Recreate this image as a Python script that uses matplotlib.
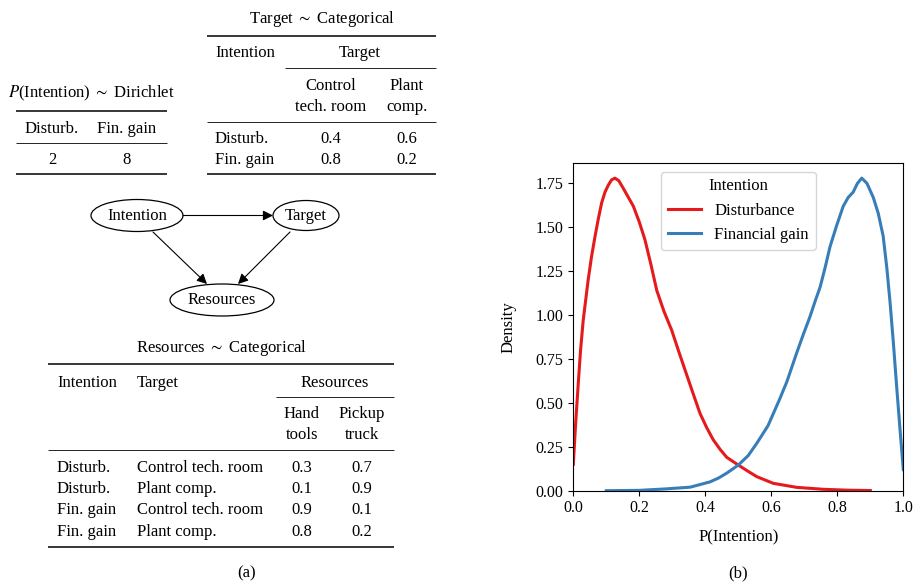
import matplotlib
matplotlib.use('Agg')
import matplotlib.pyplot as plt
from matplotlib.patches import Ellipse

plt.rcParams['font.family'] = ['Liberation Serif', 'DejaVu Serif']
plt.rcParams['mathtext.fontset'] = 'stix'
plt.rcParams['font.size'] = 12

# ---- data ----
# (a) Dirichlet prior on Intention
prior_labels = ['Disturb.', 'Fin. gain']
prior_alpha = ['2', '8']

# Target | Intention
target_rows = ['Disturb.', 'Fin. gain']
target_cols = ['Control\ntech. room', 'Plant\ncomp.']
target_probs = [['0.4', '0.6'], ['0.8', '0.2']]

# Resources | Intention, Target
res_intention = ['Disturb.', 'Disturb.', 'Fin. gain', 'Fin. gain']
res_target = ['Control tech. room', 'Plant comp.', 'Control tech. room', 'Plant comp.']
res_cols = ['Hand\ntools', 'Pickup\ntruck']
res_probs = [['0.3', '0.7'], ['0.1', '0.9'], ['0.9', '0.1'], ['0.8', '0.2']]

# DAG
nodes = ['Intention', 'Target', 'Resources']
edges = [('Intention', 'Target'), ('Intention', 'Resources'), ('Target', 'Resources')]

# (b) density of P(Intention)
dist_x = [0.0, 0.007, 0.015, 0.022, 0.03, 0.045, 0.055, 0.066, 0.076, 0.086, 0.096,
          0.106, 0.116, 0.126, 0.138, 0.152, 0.167, 0.182, 0.2, 0.217, 0.235,
          0.253, 0.275, 0.298, 0.32, 0.34, 0.36, 0.384, 0.404, 0.424, 0.445,
          0.465, 0.5, 0.53, 0.556, 0.606, 0.677, 0.758, 0.83, 0.9]
dist_y = [0.15, 0.38, 0.61, 0.80, 0.97, 1.20, 1.33, 1.45, 1.55, 1.64, 1.70,
          1.74, 1.77, 1.78, 1.765, 1.72, 1.67, 1.62, 1.53, 1.43, 1.29,
          1.14, 1.02, 0.915, 0.79, 0.68, 0.57, 0.44, 0.36, 0.29, 0.235,
          0.19, 0.146, 0.11, 0.08, 0.042, 0.019, 0.008, 0.003, 0.001]
fin_x = [0.1, 0.2, 0.278, 0.354, 0.414, 0.44, 0.465, 0.5, 0.53, 0.556, 0.59,
         0.625, 0.647, 0.677, 0.697, 0.717, 0.733, 0.748, 0.763, 0.778, 0.798,
         0.818, 0.833, 0.848, 0.861, 0.874, 0.89, 0.909, 0.924, 0.939, 0.95,
         0.96, 0.97, 0.98, 0.99, 1.0]
fin_y = [0.0, 0.002, 0.01, 0.02, 0.05, 0.072, 0.1, 0.146, 0.2, 0.27, 0.37,
         0.52, 0.62, 0.785, 0.89, 0.99, 1.08, 1.16, 1.27, 1.39, 1.51,
         1.62, 1.67, 1.70, 1.75, 1.78, 1.75, 1.67, 1.58, 1.45, 1.27,
         1.07, 0.84, 0.59, 0.35, 0.12]

W, H = 916, 582
fig = plt.figure(figsize=(W / 100, H / 100), dpi=100)

# overlay axes in pixel coordinates for the tables and graph
ann = fig.add_axes([0, 0, 1, 1])
ann.set_xlim(0, W)
ann.set_ylim(H, 0)
ann.axis('off')

thick, thin = 1.1, 0.6


def rule(x0, x1, y, lw=thick):
    ann.plot([x0, x1], [y, y], color='k', lw=lw, solid_capstyle='butt')


def txt(x, y, s, ha='center'):
    ann.text(x, y, s, ha=ha, va='baseline', fontsize=12)


# table 1: prior
txt(91, 97, r'$P$(Intention) $\sim$ Dirichlet')
rule(16, 167, 111)
prior_x = [52, 127]
for cx, lab, val in zip(prior_x, prior_labels, prior_alpha):
    txt(cx, 133, lab)
    txt(cx, 164, val)
rule(16, 167, 143, thin)
rule(16, 167, 174)

# table 2: target
txt(322, 23, r'Target $\sim$ Categorical')
rule(207, 436, 36)
txt(215, 57, 'Intention', ha='left')
txt(360, 57, 'Target')
rule(285, 436, 68, thin)
t_cols_x = [331, 407]
for cx, lab in zip(t_cols_x, target_cols):
    l1, l2 = lab.split('\n')
    txt(cx, 90, l1)
    txt(cx, 111, l2)
rule(207, 436, 122, thin)
for i, (r, probs) in enumerate(zip(target_rows, target_probs)):
    y = 143 + 21 * i
    txt(215, y, r, ha='left')
    for cx, p in zip(t_cols_x, probs):
        txt(cx, y, p)
rule(207, 436, 174)

# DAG
node_pos = {'Intention': (137, 215.5), 'Target': (306, 215.5), 'Resources': (222, 300)}
node_size = {'Intention': (92, 32), 'Target': (66, 30), 'Resources': (104, 32)}
for n in nodes:
    (cx, cy), (w, h) = node_pos[n], node_size[n]
    ann.add_patch(Ellipse((cx, cy), w, h, fill=False, ec='k', lw=0.9))
    ann.text(cx, cy, n, ha='center', va='center', fontsize=12)
edge_pts = {('Intention', 'Target'): ((183, 215.5), (273, 215.5)),
            ('Intention', 'Resources'): ((153, 232), (207, 284)),
            ('Target', 'Resources'): ((290, 232), (238, 284))}
for e in edges:
    p0, p1 = edge_pts[e]
    ann.annotate('', xy=p1, xytext=p0,
                 arrowprops=dict(arrowstyle='-|>', color='k', lw=0.8,
                                 mutation_scale=15, shrinkA=0, shrinkB=0))

# table 3: resources
txt(222, 352, r'Resources $\sim$ Categorical')
rule(48, 394, 364)
txt(57, 387, 'Intention', ha='left')
txt(137, 387, 'Target', ha='left')
txt(335, 387, 'Resources')
rule(276, 394, 397, thin)
r_cols_x = [302, 362]
for cx, lab in zip(r_cols_x, res_cols):
    l1, l2 = lab.split('\n')
    txt(cx, 418, l1)
    txt(cx, 439, l2)
rule(48, 394, 450, thin)
for i, (a, b, probs) in enumerate(zip(res_intention, res_target, res_probs)):
    y = 472 + 21.2 * i
    txt(57, y, a, ha='left')
    txt(137, y, b, ha='left')
    for cx, p in zip(r_cols_x, probs):
        txt(cx, y, p)
rule(48, 394, 547)

txt(247, 577, '(a)')
txt(738, 577, '(b)')

# (b) density plot
x0, x1, y0, y1 = 573.3, 903.3, 490.7, 163.3
ax = fig.add_axes([x0 / W, (H - y0) / H, (x1 - x0) / W, (y0 - y1) / H])
ax.plot(dist_x, dist_y, color='#e41a1c', lw=2.2, label='Disturbance')
ax.plot(fin_x, fin_y, color='#377eb8', lw=2.2, label='Financial gain')
ax.set_xlim(0, 1)
ax.set_ylim(0, (y0 - y1) / 175.6)
ax.set_xticks([0, 0.2, 0.4, 0.6, 0.8, 1.0])
ax.set_yticks([0, 0.25, 0.5, 0.75, 1.0, 1.25, 1.5, 1.75])
ax.tick_params(labelsize=11.5)
ax.set_xlabel('P(Intention)', fontsize=12)
ax.set_ylabel('Density', fontsize=12)
ax.yaxis.set_label_coords(-0.171, 0.5)
ax.xaxis.set_label_coords(0.5, -0.117)
ax.legend(title='Intention', loc='upper center', fontsize=12, title_fontsize=12,
          bbox_to_anchor=(0.5, 1.0))

fig.savefig('out.png', dpi=100)
